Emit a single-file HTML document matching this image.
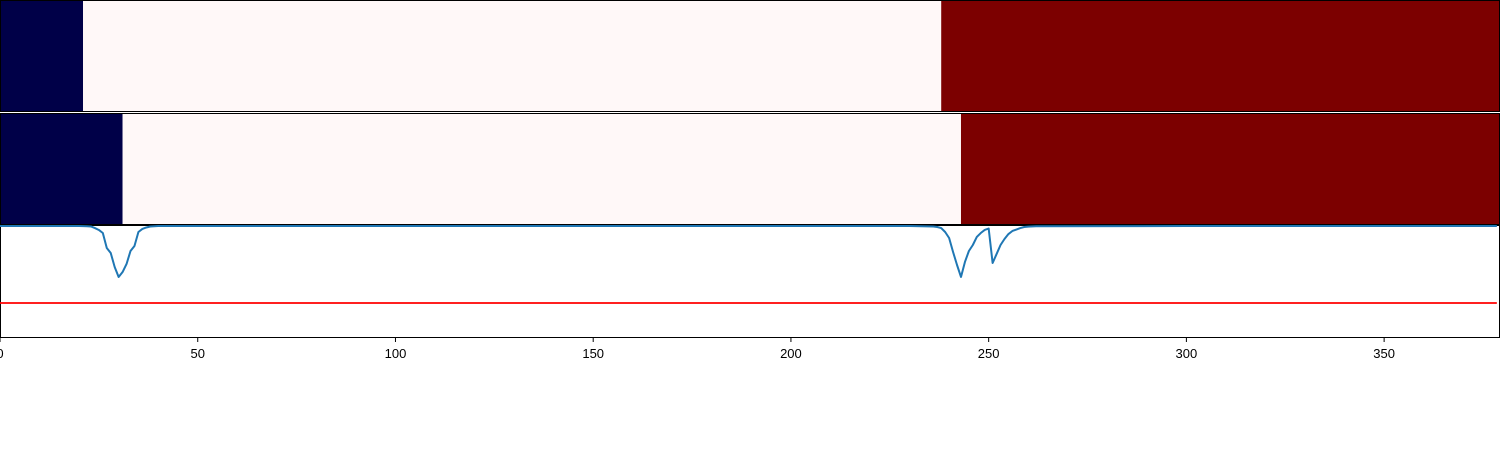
<!DOCTYPE html>
<html><head><meta charset="utf-8"><style>
html,body{margin:0;padding:0;background:#fff;}
svg{display:block;font-family:"Liberation Sans","DejaVu Sans",sans-serif;}
</style></head><body>
<svg id="chart" width="1500" height="450" viewBox="0 0 1500 450" xmlns="http://www.w3.org/2000/svg"></svg>
<script>
// Heatmap rows: segment boundaries (x units) and values (-1 low, 0 mid, 1 high)
const row1Edges = [0, 21, 238, 380];
const row1Values = [-1, 0, 1];
const row2Edges = [0, 31, 243, 380];
const row2Values = [-1, 0, 1];
// Line series
const lineX = [0, 20, 22, 23, 24, 25, 26, 27, 28, 29, 30, 31, 32, 33, 34, 35, 36, 37, 38, 40, 60, 100, 150, 200, 230, 236, 237, 238, 239, 240, 241, 242, 243, 244, 245, 246, 247, 248, 249, 250, 251, 252, 253, 254, 255, 256, 257, 258, 259, 260, 262, 300, 350, 378.5];
const lineY = [0.991, 0.991, 0.989, 0.987, 0.973, 0.956, 0.929, 0.796, 0.752, 0.628, 0.540, 0.584, 0.655, 0.770, 0.814, 0.938, 0.965, 0.978, 0.987, 0.991, 0.991, 0.991, 0.991, 0.991, 0.991, 0.987, 0.982, 0.973, 0.938, 0.885, 0.761, 0.646, 0.540, 0.673, 0.770, 0.823, 0.894, 0.929, 0.956, 0.969, 0.664, 0.743, 0.823, 0.876, 0.920, 0.947, 0.960, 0.973, 0.982, 0.986, 0.989, 0.991, 0.991, 0.991];
const threshold = 0.31;
const xTicks = [0, 50, 100, 150, 200, 250, 300, 350];

const NS = "http://www.w3.org/2000/svg";
const svg = document.getElementById("chart");
const X0 = 0, XMAX = 379.3, W = 1500;
const xs = v => X0 + v / XMAX * W;
const P3T = 225, P3B = 338;
const ys = v => P3B - v * (P3B - P3T);
const colorOf = v => v < 0 ? "#000048" : (v > 0 ? "#7c0000" : "#fff8f8");
function mk(tag, attrs) { const e = document.createElementNS(NS, tag); for (const k in attrs) e.setAttribute(k, attrs[k]); svg.appendChild(e); return e; }

function drawRow(edges, vals, top, h, name) {
  for (let i = 0; i < vals.length; i++) {
    const x1 = xs(edges[i]), x2 = Math.min(xs(edges[i + 1]), W);
    const r = mk("rect", { x: x1, y: top, width: x2 - x1, height: h, fill: colorOf(vals[i]) });
    
    
  }
  const b = mk("rect", { x: 0.5, y: top + 0.5, width: W - 1, height: h - 1, fill: "none", stroke: "#000", "stroke-width": 1 });
  
  
}
drawRow(row1Edges, row1Values, 0, 112, "heatmap-row-1");
drawRow(row2Edges, row2Values, 113, 112, "heatmap-row-2");

const f3 = mk("rect", { x: 0.5, y: P3T + 0.5, width: W - 1, height: P3B - P3T - 1, fill: "none", stroke: "#000", "stroke-width": 1 });



const th = mk("line", { x1: xs(0), x2: xs(378.5), y1: ys(threshold), y2: ys(threshold), stroke: "#ff0000", "stroke-width": 1.8 });



let d = "";
lineX.forEach((x, i) => { d += (i ? "L" : "M") + xs(x).toFixed(2) + "," + ys(lineY[i]).toFixed(2); });
const ln = mk("path", { d: d, fill: "none", stroke: "#1f77b4", "stroke-width": 2, "stroke-linejoin": "round" });



xTicks.forEach(t => {
  const x = xs(t);
  const tk = mk("line", { x1: x, x2: x, y1: P3B, y2: P3B + 4, stroke: "#000", "stroke-width": 1 });
  
  
  const tx = mk("text", { x: x, y: P3B + 20, "font-size": 13, "text-anchor": "middle", fill: "#000" });
  tx.textContent = t;
  
  
});
</script>
</body></html>
